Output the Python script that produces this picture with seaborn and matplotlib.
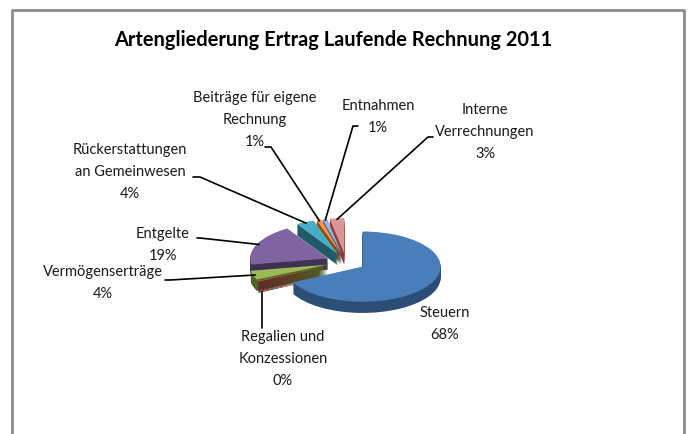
import numpy as np
import matplotlib
matplotlib.use("Agg")
import matplotlib.pyplot as plt
import seaborn as sns

sns.set_theme(style="white")
plt.rcParams['font.family'] = ['Lato', 'DejaVu Sans']

# data
categories = ["Steuern", "Regalien und\nKonzessionen", "Vermögenserträge", "Entgelte",
              "Rückerstattungen\nan Gemeinwesen", "Beiträge für eigene\nRechnung",
              "Entnahmen", "Interne\nVerrechnungen"]
shares = [67.6, 0.4, 4.2, 19.0, 3.8, 1.0, 1.0, 3.0]
colors = ["#4A7EBB", "#C0504D", "#9BBB59", "#8064A2", "#4BACC6", "#F79646", "#95B3D7", "#D99694"]
side_colors = ["#2C4D75", "#632523", "#4F6228", "#3F3151", "#215968", "#984807", "#376092", "#943634"]

# label layout in pixels from top-left: text centre, line anchor, stub end
label_pos = [(445, 324), (283, 359), (103, 283), (163, 245), (130, 172), (255, 120), (378, 117), (485, 132)]
anchor_pos = [None, (262, 328), (165, 280), (197, 238), (193, 177), (265, 147), (358, 126), (433, 137)]
stub_pos = [None, (262, 328), (170, 280), (200, 238), (200, 177), (271, 147), (353, 126), (428, 137)]

W, H = 688, 434
fig = plt.figure(figsize=(W / 100, H / 100), dpi=100)

# frame layer in pixel coords
frame = fig.add_axes([0, 0, 1, 1])
frame.set_xlim(0, W)
frame.set_ylim(H, 0)
frame.axis("off")
frame.plot([12, 12, 684, 684], [440, 10, 10, 440], color="#8C8C8C", lw=2)

fig.text(333 / W, 1 - 40 / H, "Artengliederung Ertrag Laufende Rechnung 2011",
         ha="center", va="center", fontsize=14.4, fontweight="bold", color="black")

# pie axes: squashed ellipse to mimic the 3d tilt
cx, cy = 346, 262
rx, squash = 78, 0.45
ax = fig.add_axes([(cx - 2 * rx) / W, 1 - (cy + 2 * rx * squash) / H,
                   4 * rx / W, 4 * rx * squash / H])
ax.axis("off")

explode = [0.25] * len(shares)
depth = 0.32
n_layers = 12
for k in range(n_layers, 0, -1):
    off = depth * k / n_layers
    ax.pie(shares, colors=side_colors, startangle=90, counterclock=False,
           explode=explode, center=(0, -off), radius=1,
           wedgeprops=dict(linewidth=0))
wedges, _ = ax.pie(shares, colors=colors, startangle=90, counterclock=False,
                   explode=explode, radius=1, wedgeprops=dict(linewidth=0))
ax.set_aspect("auto")
ax.set_xlim(-2, 2)
ax.set_ylim(-2, 2)
frame.set_zorder(3)
frame.patch.set_visible(False)

total = sum(shares)
for i, (w, name, v) in enumerate(zip(wedges, categories, shares)):
    lx, ly = label_pos[i]
    fig.text(lx / W, 1 - ly / H, f"{name}\n{v / total * 100:.0f}%", ha="center",
             va="center", fontsize=10.5, linespacing=1.75, color="#1a1a1a")
    if anchor_pos[i] is None:
        continue
    ang = np.deg2rad((w.theta1 + w.theta2) / 2)
    x0, y0 = w.center
    r = 0.97
    tip = (x0 + r * np.cos(ang), y0 + r * np.sin(ang))
    if i == 1:
        tip = (tip[0], tip[1] - depth)
    px, py = ax.transData.transform(tip)
    py = H - py
    if i == 1:
        px = anchor_pos[i][0]
    frame.plot([anchor_pos[i][0], stub_pos[i][0], px],
               [anchor_pos[i][1], stub_pos[i][1], py], color="black", lw=1.2)

fig.savefig("out.png", dpi=100)
